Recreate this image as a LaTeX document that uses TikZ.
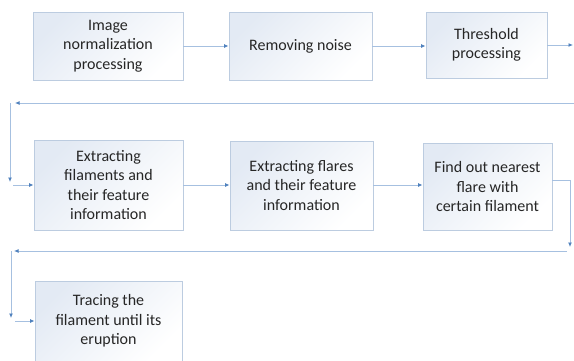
\documentclass[tikz,border=0pt]{standalone}
\usepackage{fontspec}
\setmainfont{Carlito}
\usetikzlibrary{arrows.meta}
\definecolor{boxline}{HTML}{BCCCE0}
\definecolor{boxfill}{HTML}{E3EAF4}
\definecolor{connc}{HTML}{A6C0E0}
\definecolor{tipc}{HTML}{4F81BD}
\definecolor{txtc}{HTML}{262626}
\begin{document}
\begin{tikzpicture}[x=1pt,y=-1pt,
 stepbox/.style={draw=boxline,line width=0.9pt,top color=boxfill,bottom color=white,shading angle=45,align=center,inner sep=0pt,font=\fontsize{16}{19.5}\selectfont,text=txtc},
 conn/.style={draw=connc,line width=0.9pt,-{Latex[length=4.5pt,width=4pt,color=tipc]}}]
\useasboundingbox (0,0) rectangle (574,360);
\node[stepbox,minimum width=150pt,minimum height=68pt] (b1) at (108,46) {Image\\normalization\\processing};
\node[stepbox,minimum width=143pt,minimum height=68pt] (b2) at (300.5,46) {Removing noise};
\node[stepbox,minimum width=121pt,minimum height=66pt] (b3) at (486.5,45) {Threshold\\processing};
\node[stepbox,minimum width=149pt,minimum height=90pt] (b4) at (108.5,185) {Extracting\\filaments and\\their feature\\information};
\node[stepbox,minimum width=143pt,minimum height=89pt] (b5) at (301.5,185.5) {Extracting flares\\and their feature\\information};
\node[stepbox,minimum width=129pt,minimum height=87pt] (b6) at (487.5,186.5) {Find out nearest\\flare with\\certain filament};
\node[stepbox,minimum width=147pt,minimum height=80pt] (b7) at (108.5,321) {Tracing the\\filament until its\\eruption};
% row 1
\draw[conn] (b1.east) -- (b1.east -| b2.west);
\draw[conn] (b2.east) -- (b2.east -| b3.west);
\coordinate (e1) at (573,45);
\draw[conn] (b3.east |- e1) -- (e1);
% feedback 1
\coordinate (f1a) at (574,103);
\coordinate (f1b) at (15,103);
\coordinate (f1c) at (10,103);
\coordinate (f1d) at (10,182);
\coordinate (f1e) at (13,185);
\draw[conn] (f1a) -- (f1b);
\draw[conn] (f1c) -- (f1d);
\draw[conn] (f1e) -- (b4.west |- f1e);
% row 2
\draw[conn] (b4.east) -- (b4.east -| b5.west);
\draw[conn] (b5.east |- b4.east) -- (b4.east -| b6.west);
\coordinate (g1) at (570,180);
\coordinate (g2) at (570,247);
\draw[conn] (b6.east |- g1) -- (g1) -- (g2);
% feedback 2
\coordinate (h1) at (567,251);
\coordinate (h2) at (14,251);
\coordinate (h3) at (11,251);
\coordinate (h4) at (11,318);
\coordinate (h5) at (15,321);
\draw[conn] (h1) -- (h2);
\draw[conn] (h3) -- (h4);
\draw[conn] (h5) -- (b7.west |- h5);
\end{tikzpicture}
\end{document}
